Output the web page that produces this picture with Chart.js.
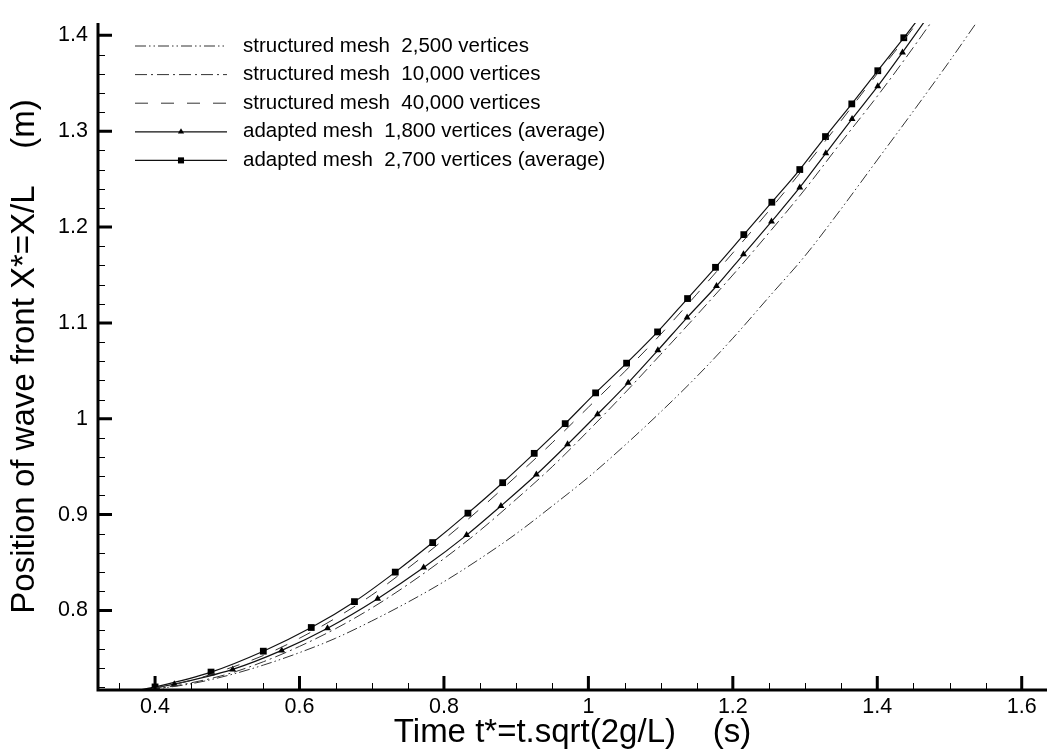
<!DOCTYPE html>
<html>
<head>
<meta charset="utf-8">
<title>Position of wave front</title>
<script src="https://cdn.jsdelivr.net/npm/chart.js@4.4.1/dist/chart.umd.min.js"></script>
<style>
  html, body { margin: 0; padding: 0; background: #fff; }
  #wrap { width: 1053px; height: 756px; }
</style>
</head>
<body>
<div id="wrap"><canvas id="front" width="1053" height="756"></canvas></div>
<script>
// time grid shared by the three structured-mesh curves
const timeGrid = [0.36, 0.40, 0.45, 0.50, 0.55, 0.60, 0.65, 0.70, 0.75, 0.80, 0.85, 0.90,
                  0.95, 1.00, 1.05, 1.10, 1.15, 1.20, 1.25, 1.30, 1.35, 1.40, 1.45, 1.50, 1.55];

const mesh2500  = [0.714, 0.718, 0.7235, 0.732, 0.743, 0.756, 0.771, 0.789, 0.8086, 0.830, 0.854, 0.880,
                   0.909, 0.939, 0.972, 1.007, 1.044, 1.084, 1.127, 1.170, 1.219, 1.270, 1.321, 1.373, 1.427];
const mesh10000 = [0.714, 0.718, 0.7245, 0.7335, 0.7465, 0.7625, 0.781, 0.8025, 0.827, 0.854, 0.8835, 0.916,
                   0.950, 0.9875, 1.0265, 1.067, 1.108, 1.150, 1.194, 1.2395, 1.2885, 1.3365, 1.3875, 1.441, 1.495];
const mesh40000 = [0.714, 0.719, 0.727, 0.739, 0.753, 0.771, 0.792, 0.816, 0.844, 0.874, 0.906, 0.940,
                   0.975, 1.012, 1.049, 1.088, 1.130, 1.173, 1.217, 1.263, 1.311, 1.360, 1.408, 1.462, 1.515];

// adapted meshes (points = symbols on the curve, plus start/end)
const adapt1800T = [0.36, 0.4267, 0.5075, 0.5754, 0.6388, 0.7082, 0.7719, 0.8314, 0.8789, 0.928, 0.9712, 1.0127,
                    1.0551, 1.0962, 1.1367, 1.1774, 1.2148, 1.2535, 1.2927, 1.3287, 1.3651, 1.4007, 1.4349, 1.48];
const adapt1800X = [0.714, 0.7231, 0.7385, 0.7583, 0.7815, 0.8123, 0.8447, 0.8786, 0.909, 0.9418, 0.9733, 1.0047,
                    1.0375, 1.0714, 1.1056, 1.1385, 1.1716, 1.2057, 1.2413, 1.2769, 1.3128, 1.347, 1.3822, 1.43];

const adapt2700T = [0.36, 0.400, 0.4775, 0.5499, 0.6163, 0.6761, 0.7326, 0.7844, 0.8332, 0.8813, 0.925, 0.9679,
                    1.010, 1.0529, 1.0958, 1.1373, 1.176, 1.2152, 1.254, 1.2927, 1.3283, 1.3647, 1.4007, 1.4367, 1.47];
const adapt2700X = [0.714, 0.7202, 0.7357, 0.7575, 0.7822, 0.8092, 0.840, 0.8708, 0.9015, 0.9333, 0.9639, 0.9949,
                    1.027, 1.058, 1.0906, 1.1254, 1.158, 1.1921, 1.2259, 1.260, 1.2944, 1.3285, 1.3631, 1.3975, 1.43];

const seriesLabels = [
    "structured mesh  2,500 vertices",
    "structured mesh  10,000 vertices",
    "structured mesh  40,000 vertices",
    "adapted mesh  1,800 vertices (average)",
    "adapted mesh  2,700 vertices (average)"
];

const FONT = "'Liberation Sans', Arial, Helvetica, sans-serif";

function pairs(xs, ys) {
    return xs.map((x, i) => ({ x: x, y: ys[i] }));
}

// no symbol on first/last point (curve start and exit through the top)
function symbolRadius(r) {
    return (c) => (c.dataIndex === 0 || c.dataIndex === c.dataset.data.length - 1) ? 0 : r;
}

// ticks pointing into the plot, thick axis lines on left and bottom
const axisTicks = {
    id: "axisTicks",
    afterDraw(chart) {
        const { ctx, chartArea: a, scales: { x, y } } = chart;
        ctx.save();
        ctx.strokeStyle = "#000";

        ctx.lineWidth = 1;
        ctx.beginPath();
        for (let i = Math.ceil(x.min / 0.05 - 1e-9); i * 0.05 <= x.max + 1e-9; i++) {
            if (i % 4 === 0) continue;
            const px = Math.round(x.getPixelForValue(i * 0.05)) + 0.5;
            ctx.moveTo(px, a.bottom);
            ctx.lineTo(px, a.bottom - 7);
        }
        for (let i = Math.ceil(y.min / 0.02 - 1e-9); i * 0.02 <= y.max + 1e-9; i++) {
            if (i % 5 === 0) continue;
            const py = Math.round(y.getPixelForValue(i * 0.02)) + 0.5;
            ctx.moveTo(a.left, py);
            ctx.lineTo(a.left + 7, py);
        }
        ctx.stroke();

        ctx.lineWidth = 3;
        ctx.beginPath();
        x.ticks.forEach(t => {
            const px = x.getPixelForValue(t.value);
            ctx.moveTo(px, a.bottom);
            ctx.lineTo(px, a.bottom - 14);
        });
        y.ticks.forEach(t => {
            const py = y.getPixelForValue(t.value);
            ctx.moveTo(a.left, py);
            ctx.lineTo(a.left + 14, py);
        });
        ctx.moveTo(a.left, a.top);
        ctx.lineTo(a.left, a.bottom);
        ctx.lineTo(a.right, a.bottom);
        ctx.stroke();
        ctx.restore();
    }
};

// legend in the upper left of the plot
const lineLegend = {
    id: "lineLegend",
    afterDraw(chart) {
        const ctx = chart.ctx;
        ctx.save();
        chart.data.datasets.forEach((ds, i) => {
            const yy = 46 + i * 28.6;
            ctx.strokeStyle = ds.borderColor;
            ctx.lineWidth = ds.borderWidth;
            ctx.setLineDash(ds.borderDash || []);
            ctx.beginPath();
            ctx.moveTo(135, yy);
            ctx.lineTo(227, yy);
            ctx.stroke();
            ctx.setLineDash([]);
            if (ds.legendSymbol) {
                ctx.fillStyle = "#000";
                Chart.helpers.drawPoint(ctx, {
                    pointStyle: ds.pointStyle, rotation: 0, radius: ds.legendSymbol, borderWidth: 0
                }, 181, yy);
            }
            ctx.fillStyle = "#000";
            ctx.font = "20.5px " + FONT;
            ctx.textBaseline = "middle";
            ctx.textAlign = "left";
            ctx.fillText(ds.label, 243, yy);
        });
        ctx.restore();
    }
};

const ctx = document.getElementById("front").getContext("2d");
new Chart(ctx, {
    type: "scatter",
    data: {
        datasets: [{
            label: seriesLabels[0],
            data: pairs(timeGrid, mesh2500),
            showLine: true,
            borderColor: "#333",
            borderWidth: 1,
            borderDash: [11, 3, 1.5, 3, 1.5, 3],
            pointRadius: 0,
            cubicInterpolationMode: "monotone"
        }, {
            label: seriesLabels[1],
            data: pairs(timeGrid, mesh10000),
            showLine: true,
            borderColor: "#333",
            borderWidth: 1,
            borderDash: [12, 4, 2, 4],
            pointRadius: 0,
            cubicInterpolationMode: "monotone"
        }, {
            label: seriesLabels[2],
            data: pairs(timeGrid, mesh40000),
            showLine: true,
            borderColor: "#333",
            borderWidth: 1,
            borderDash: [13, 13],
            pointRadius: 0,
            cubicInterpolationMode: "monotone"
        }, {
            label: seriesLabels[3],
            data: pairs(adapt1800T, adapt1800X),
            showLine: true,
            borderColor: "#111",
            borderWidth: 1.2,
            pointStyle: "triangle",
            pointRadius: symbolRadius(4),
            legendSymbol: 3.6,
            pointBackgroundColor: "#000",
            pointBorderWidth: 0,
            cubicInterpolationMode: "monotone"
        }, {
            label: seriesLabels[4],
            data: pairs(adapt2700T, adapt2700X),
            showLine: true,
            borderColor: "#111",
            borderWidth: 1.2,
            pointStyle: "rect",
            pointRadius: symbolRadius(4.8),
            legendSymbol: 4.3,
            pointBackgroundColor: "#000",
            pointBorderWidth: 0,
            cubicInterpolationMode: "monotone"
        }]
    },
    options: {
        responsive: false,
        animation: false,
        events: [],
        layout: { padding: { top: 12, right: 6, left: 0, bottom: 0 } },
        plugins: {
            legend: { display: false },
            tooltip: { enabled: false }
        },
        scales: {
            x: {
                type: "linear",
                min: 0.321,
                max: 1.635,
                afterFit: (s) => { s.height = 66; },
                grid: { display: false, drawTicks: false },
                border: { display: false },
                ticks: {
                    stepSize: 0.2,
                    includeBounds: false,
                    padding: 4,
                    color: "#000",
                    font: { family: FONT, size: 21.5 },
                    callback: (v) => String(Math.round(v * 100) / 100)
                },
                title: {
                    display: true,
                    text: "Time t*=t.sqrt(2g/L)    (s)",
                    color: "#000",
                    font: { family: FONT, size: 33 },
                    padding: { top: 0, bottom: 3 }
                }
            },
            y: {
                type: "linear",
                min: 0.717,
                max: 1.413,
                afterFit: (s) => { s.width = 98; },
                grid: { display: false, drawTicks: false },
                border: { display: false },
                ticks: {
                    stepSize: 0.1,
                    includeBounds: false,
                    padding: 10,
                    color: "#000",
                    font: { family: FONT, size: 21.5 },
                    callback: (v) => String(Math.round(v * 100) / 100)
                },
                title: {
                    display: true,
                    text: "Position of wave front X*=X/L    (m)",
                    color: "#000",
                    font: { family: FONT, size: 33 },
                    padding: { top: 5, bottom: 0 }
                }
            }
        }
    },
    plugins: [axisTicks, lineLegend]
});
</script>
</body>
</html>
